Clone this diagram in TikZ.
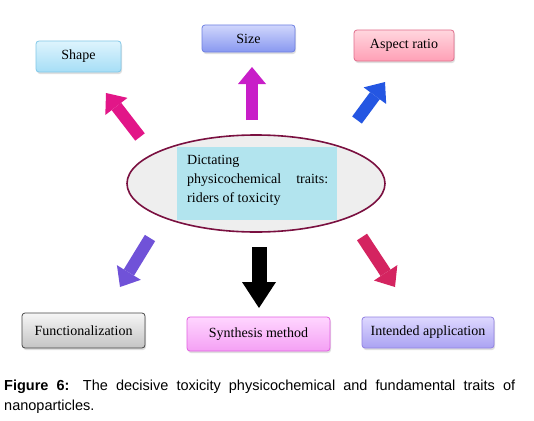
\documentclass[tikz,border=0pt]{standalone}
\usepackage{fontspec}
\setmainfont{Liberation Serif}
\newfontfamily\capfont{Liberation Sans}
\usetikzlibrary{arrows.meta,shapes.geometric,shadows}
\definecolor{cShapeA}{RGB}{222,244,253}
\definecolor{cShapeB}{RGB}{166,222,246}
\definecolor{cShapeD}{RGB}{130,200,232}
\definecolor{cSizeA}{RGB}{208,214,252}
\definecolor{cSizeB}{RGB}{136,152,240}
\definecolor{cSizeD}{RGB}{110,128,226}
\definecolor{cAspA}{RGB}{255,214,222}
\definecolor{cAspB}{RGB}{255,160,182}
\definecolor{cAspD}{RGB}{224,110,140}
\definecolor{cFunA}{RGB}{246,246,246}
\definecolor{cFunB}{RGB}{196,196,196}
\definecolor{cFunD}{RGB}{70,70,70}
\definecolor{cSynA}{RGB}{255,214,255}
\definecolor{cSynB}{RGB}{244,160,244}
\definecolor{cSynD}{RGB}{226,96,226}
\definecolor{cIntA}{RGB}{222,216,255}
\definecolor{cIntB}{RGB}{170,162,242}
\definecolor{cIntD}{RGB}{146,130,226}
\definecolor{aShape}{RGB}{226,22,136}
\definecolor{aSize}{RGB}{200,30,200}
\definecolor{aAsp}{RGB}{36,86,226}
\definecolor{aFun}{RGB}{112,82,216}
\definecolor{aInt}{RGB}{212,36,96}
\definecolor{ellBorder}{RGB}{122,16,64}
\definecolor{ellFill}{RGB}{238,238,238}
\definecolor{innerFill}{RGB}{178,228,238}
\tikzset{
  box/.style={draw, rounded corners=3pt, line width=0.8pt, inner sep=0pt,
    font=\fontsize{14}{16}\selectfont,
    drop shadow={shadow xshift=1pt, shadow yshift=-2pt, opacity=0.25}},
  blockarrow/.style={line width=12pt, -{Triangle[width=28pt,length=17pt,line width=0pt]}},
}
\begin{document}
\begin{tikzpicture}[x=1pt,y=-1pt]
\useasboundingbox (0,0) rectangle (534,420);
\fill[white] (0,0) rectangle (534,420);
% boxes
\node[box, draw=cShapeD, top color=cShapeA, bottom color=cShapeB, minimum width=85pt, minimum height=31pt] (shape) at (78.5,56.5) {Shape};
\node[box, draw=cSizeD, top color=cSizeA, bottom color=cSizeB, minimum width=93pt, minimum height=27pt] (size) at (248.5,38.5) {Size};
\node[box, draw=cAspD, top color=cAspA, bottom color=cAspB, minimum width=100pt, minimum height=31pt] (asp) at (404,45.5) {Aspect ratio};
\node[box, draw=cFunD, top color=cFunA, bottom color=cFunB, minimum width=123pt, minimum height=35pt] (fun) at (83.5,330.5) {Functionalization};
\node[box, draw=cSynD, top color=cSynA, bottom color=cSynB, minimum width=143pt, minimum height=34pt] (syn) at (258.5,334) {Synthesis method};
\node[box, draw=cIntD, top color=cIntA, bottom color=cIntB, minimum width=132pt, minimum height=31pt] (int) at (428,332.5) {Intended application};
% central ellipse
\node[ellipse, draw=ellBorder, fill=ellFill, line width=1.6pt, minimum width=258pt, minimum height=97pt] (ell) at (256,183.5) {};
\node[fill=innerFill, minimum width=160pt, minimum height=73pt, inner sep=0pt] (inner) at (257,183.5) {};
\node[anchor=base west, inner sep=0pt, font=\fontsize{14}{19}\selectfont] (ctext) at (187,164)
  {\parbox[t]{141pt}{Dictating\newline physicochemical\hfill traits:\newline riders of toxicity}};
% arrow end points
\coordinate (s0) at (140,137); \coordinate (s1) at (106,93);
\coordinate (z0) at (252,120); \coordinate (z1) at (252,67);
\coordinate (a0) at (357,120); \coordinate (a1) at (385,82);
\coordinate (f0) at (150,238); \coordinate (f1) at (120,287);
\coordinate (y0) at (259,247); \coordinate (y1) at (259,308);
\coordinate (i0) at (362,237); \coordinate (i1) at (395,287);
\draw[blockarrow, draw=aShape, color=aShape] (s0) -- (s1);
\draw[blockarrow, draw=aSize, color=aSize] (z0) -- (z1);
\draw[blockarrow, draw=aAsp, color=aAsp] (a0) -- (a1);
\draw[blockarrow, draw=aFun, color=aFun] (f0) -- (f1);
\draw[line width=15pt, -{Triangle[width=34pt,length=26pt,line width=0pt]}, black] (y0) -- (y1);
\draw[blockarrow, draw=aInt, color=aInt] (i0) -- (i1);
% caption
\node[anchor=base west, inner sep=0pt, font=\capfont\fontsize{14.5}{20}\selectfont] (cap) at (4,390)
  {\parbox[t]{511pt}{\makebox[511pt][s]{\textbf{Figure 6:} The decisive toxicity physicochemical and fundamental traits of}\par nanoparticles.}};
\end{tikzpicture}
\end{document}
